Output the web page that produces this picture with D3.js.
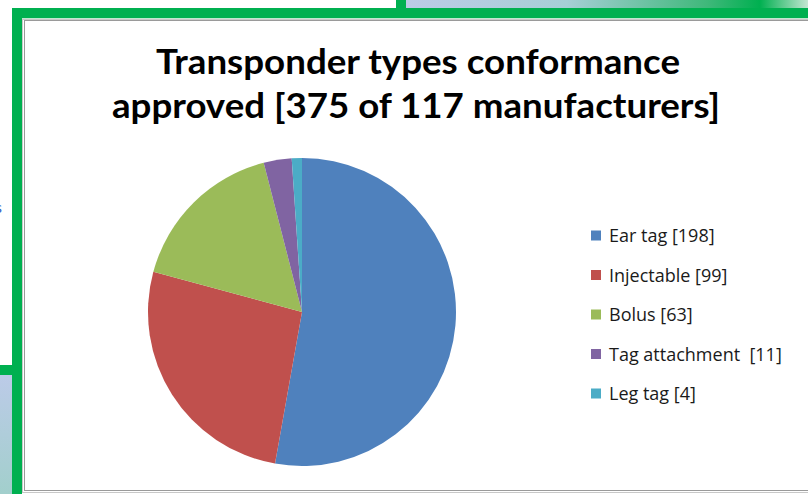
<!DOCTYPE html>
<html><head><meta charset="utf-8">
<script src="https://cdn.jsdelivr.net/npm/d3@7"></script>
<style>html,body{margin:0;padding:0;background:#fff;overflow:hidden}</style>
</head><body>
<svg id="c" width="808" height="494"></svg>
<script>
const titleLines = ["Transponder types conformance", "approved [375 of 117 manufacturers]"];
const categories = ["Ear tag", "Injectable", "Bolus", "Tag attachment ", "Leg tag"];
const values = [198, 99, 63, 11, 4];
const colors = ["#4F81BD", "#C0504D", "#9BBB59", "#8064A2", "#4BACC6"];

const svg = d3.select("#c");
const defs = svg.append("defs");
const g1 = defs.append("linearGradient").attr("id","gTop").attr("x1","0").attr("x2","1").attr("y1","0").attr("y2","0");
[["0%","#bccbe6"],["40%","#a6cfd6"],["75%","#3fb87a"],["88%","#00b050"],["100%","#c4e6d2"]].forEach(s=>g1.append("stop").attr("offset",s[0]).attr("stop-color",s[1]));
const g2 = defs.append("linearGradient").attr("id","gLeft").attr("x1","0").attr("x2","0").attr("y1","0").attr("y2","1");
[["0%","#bccbe8"],["100%","#a2cfcc"]].forEach(s=>g2.append("stop").attr("offset",s[0]).attr("stop-color",s[1]));

// background slide fragments
svg.append("rect").attr("x",406).attr("y",0).attr("width",402).attr("height",8).attr("fill","url(#gTop)");
svg.append("rect").attr("x",396).attr("y",0).attr("width",10).attr("height",8).attr("fill","#00b050");
svg.append("rect").attr("x",0).attr("y",375).attr("width",12).attr("height",119).attr("fill","url(#gLeft)");
svg.append("rect").attr("x",0).attr("y",365).attr("width",12).attr("height",10).attr("fill","#00b050");
svg.append("text").attr("x",-5).attr("y",213).attr("font-family","Lato, sans-serif").attr("font-size",16).attr("fill","#2f62c8").text("s");
// green frame
svg.append("rect").attr("x",12).attr("y",8).attr("width",796).attr("height",10).attr("fill","#00b050");
svg.append("rect").attr("x",12).attr("y",8).attr("width",10).attr("height",486).attr("fill","#00b050");
svg.append("rect").attr("x",22).attr("y",18).attr("width",786).attr("height",1).attr("fill","#bfe8cf");
// chart area
svg.append("rect").attr("x",22.5).attr("y",19.5).attr("width",800).attr("height",473).attr("fill","#fff").attr("stroke","#c8c8c8").attr("stroke-width",1);
svg.append("rect").attr("x",24.5).attr("y",20.5).attr("width",800).attr("height",470).attr("fill","none").attr("stroke","#9a9a9a").attr("stroke-width",1);

// title
const tl = [{t:titleLines[0], y:74, w:524, x:418},{t:titleLines[1], y:118, w:608, x:416}];
svg.selectAll("text.title").data(tl).enter().append("text").attr("class","title")
  .attr("x",d=>d.x).attr("y",d=>d.y).attr("text-anchor","middle")
  .attr("font-family","Lato, sans-serif").attr("font-weight","bold").attr("font-size",34)
  .attr("fill","#000").attr("textLength",d=>d.w).attr("lengthAdjust","spacingAndGlyphs").text(d=>d.t);

// pie
const cx = 302, cy = 312, R = 154;
const pie = d3.pie().sort(null).value(d=>d.v);
const arc = d3.arc().innerRadius(0).outerRadius(R);
const data = categories.map((c,i)=>({c, v:values[i], col:colors[i]}));
const pg = svg.append("g").attr("transform",`translate(${cx},${cy})`);
pg.selectAll("path").data(pie(data)).enter().append("path").attr("d",arc).attr("fill",d=>d.data.col);

// legend
const ly = d3.scalePoint().domain(categories).range([235.5,393.5]);
const lg = svg.append("g");
const items = lg.selectAll("g").data(data).enter().append("g").attr("transform",d=>`translate(591,${ly(d.c)})`);
items.append("rect").attr("x",0).attr("y",-5).attr("width",10).attr("height",10).attr("fill",d=>d.col);
items.append("text").attr("x",18).attr("y",6.5).attr("font-family","'Open Sans', sans-serif").attr("font-size",18).attr("fill","#1a1a1a")
  .attr("xml:space","preserve").style("white-space","pre").text(d=>`${d.c} [${d.v}]`);
</script>
</body></html>
